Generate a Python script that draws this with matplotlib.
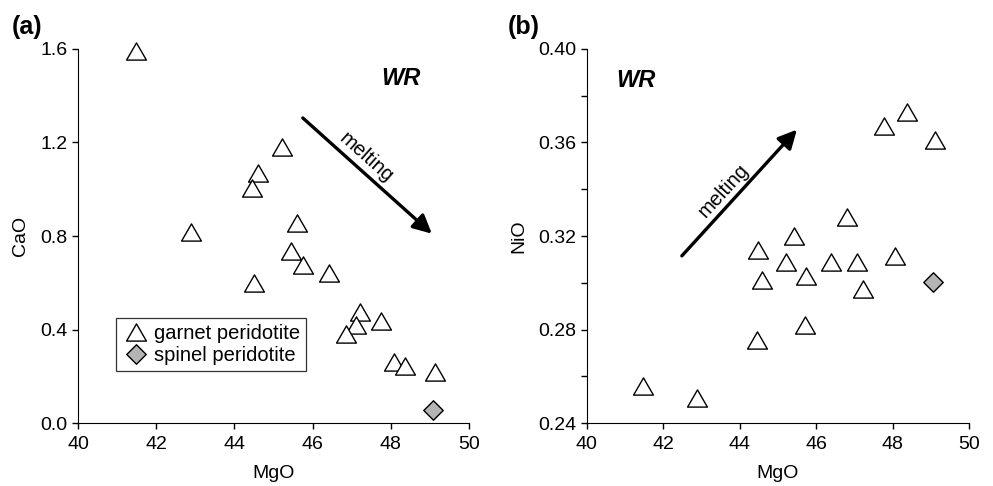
import numpy as np
import matplotlib
matplotlib.use("Agg")
import matplotlib.pyplot as plt
from matplotlib.path import Path

plt.rcParams['font.family'] = ['Liberation Sans', 'DejaVu Sans']
plt.rcParams['font.size'] = 14

# whole-rock data
mgo_grt = [41.48, 42.88, 45.22, 44.61, 44.46, 45.59, 45.44, 45.75, 44.50,
           46.42, 47.21, 47.11, 46.85, 47.76, 48.08, 48.37, 49.13]
cao_grt = [1.59, 0.815, 1.18, 1.07, 1.005, 0.855, 0.735, 0.675, 0.60,
           0.64, 0.475, 0.42, 0.38, 0.435, 0.26, 0.245, 0.22]
mgo_sp = [49.07]
cao_sp = [0.055]

mgo_grt_b = [47.78, 48.37, 49.12, 46.82, 45.43, 44.47, 45.21, 46.40, 47.07,
             48.07, 44.59, 45.75, 47.23, 45.72, 44.45, 41.48, 42.89]
nio_grt = [0.367, 0.373, 0.361, 0.328, 0.320, 0.314, 0.309, 0.309, 0.309,
           0.3115, 0.301, 0.303, 0.2975, 0.282, 0.2755, 0.256, 0.2505]
mgo_sp_b = [49.07]
nio_sp = [0.3005]

# closed marker shapes (centred on their bounding box)
tri = Path([(-1, -0.866), (1, -0.866), (0, 0.866), (-1, -0.866)], closed=True)
dia = Path([(0, 1), (1, 0), (0, -1), (-1, 0), (0, 1)], closed=True)

fig = plt.figure(figsize=(9.93, 4.86), dpi=100)
ax1 = fig.add_axes([0.0785, 0.1296, 0.3938, 0.7696])
ax2 = fig.add_axes([0.5908, 0.1296, 0.3850, 0.7696])

for ax in (ax1, ax2):
    ax.spines['top'].set_visible(False)
    ax.spines['right'].set_visible(False)
    ax.tick_params(direction='out', length=4, width=1, labelsize=14)
    ax.tick_params(axis='x', pad=5)
    ax.set_xlim(40, 50)
    ax.set_xticks([40, 42, 44, 46, 48, 50])
    ax.set_xlabel("MgO", fontsize=14, labelpad=9)

# (a) CaO vs MgO
ax1.plot(mgo_grt, cao_grt, linestyle='none', marker=tri, ms=14.3,
         mfc='white', mec='black', mew=1.0, label='garnet peridotite',
         clip_on=False)
ax1.plot(mgo_sp, cao_sp, linestyle='none', marker=dia, ms=14,
         mfc='#b4b4b4', mec='black', mew=1.0, label='spinel peridotite',
         clip_on=False)
ax1.set_ylim(0, 1.6)
ax1.set_yticks([0.0, 0.4, 0.8, 1.2, 1.6])
ax1.set_yticklabels(['0.0', '0.4', '0.8', '1.2', '1.6'])
ax1.set_ylabel("CaO", fontsize=14, labelpad=8)
ax1.annotate('', xy=(49.05, 0.81), xytext=(45.75, 1.305),
             arrowprops=dict(arrowstyle='-|>', lw=2.4, color='black',
                             mutation_scale=28, shrinkA=0, shrinkB=0))
ax1.text(47.37, 1.135, 'melting', rotation=-41.7, ha='center', va='center',
         fontsize=14.5)
ax1.text(48.25, 1.475, 'WR', fontsize=17, fontweight='bold', style='italic',
         ha='center', va='center')
leg = ax1.legend(loc='lower left', bbox_to_anchor=(0.097, 0.139),
                 borderaxespad=0, frameon=True, fancybox=False,
                 edgecolor='black', handletextpad=0.2, borderpad=0.3,
                 labelspacing=0.15, handlelength=1.4, fontsize=14.5)
leg.get_frame().set_linewidth(0.9)
fig.text(0.012, 0.944, '(a)', fontsize=18, fontweight='bold', va='center')

# (b) NiO vs MgO
ax2.plot(mgo_grt_b, nio_grt, linestyle='none', marker=tri, ms=14.3,
         mfc='white', mec='black', mew=1.0, clip_on=False)
ax2.plot(mgo_sp_b, nio_sp, linestyle='none', marker=dia, ms=14,
         mfc='#b4b4b4', mec='black', mew=1.0, clip_on=False)
ax2.set_ylim(0.24, 0.40)
ax2.set_yticks([0.24, 0.28, 0.32, 0.36, 0.40])
ax2.set_yticks([0.26, 0.30, 0.34, 0.38], minor=True)
ax2.tick_params(axis='y', which='minor', direction='out', length=4, width=1)
ax2.set_yticklabels(['0.24', '0.28', '0.32', '0.36', '0.40'])
ax2.set_ylabel("NiO", fontsize=14, labelpad=8)
ax2.annotate('', xy=(45.5, 0.3655), xytext=(42.49, 0.3115),
             arrowprops=dict(arrowstyle='-|>', lw=2.4, color='black',
                             mutation_scale=28, shrinkA=0, shrinkB=0))
ax2.text(43.57, 0.3395, 'melting', rotation=47.5, ha='center', va='center',
         fontsize=14.5)
ax2.text(41.3, 0.3865, 'WR', fontsize=17, fontweight='bold', style='italic',
         ha='center', va='center')
fig.text(0.511, 0.944, '(b)', fontsize=18, fontweight='bold', va='center')

fig.savefig('out.png', dpi=100)
